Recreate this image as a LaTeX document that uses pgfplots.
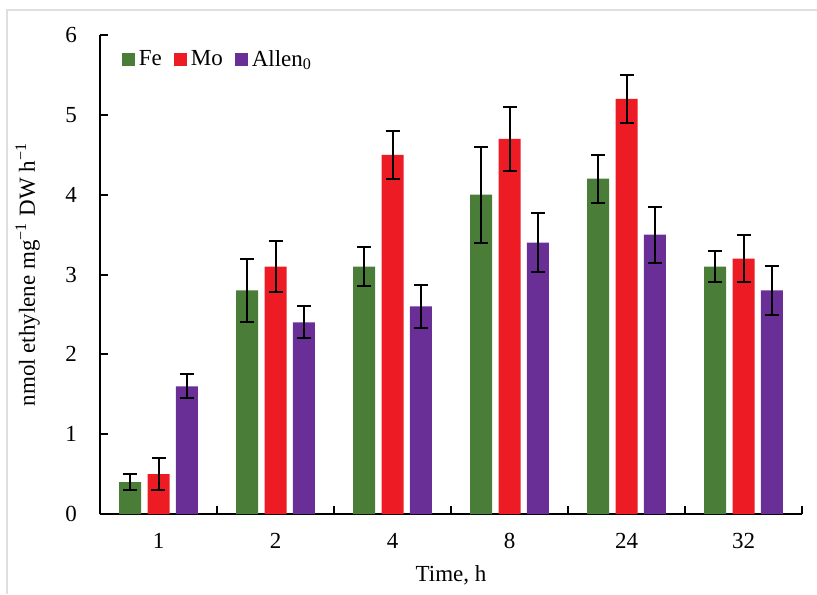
\documentclass[border=0pt]{standalone}
\usepackage{fontspec}
\setmainfont{Liberation Serif}
\usepackage{pgfplots}
\pgfplotsset{compat=1.18}
\usepackage{pgfplotstable}

\definecolor{feGreen}{RGB}{74,125,56}
\definecolor{moRed}{RGB}{237,28,36}
\definecolor{alPurple}{RGB}{106,47,150}

% time point index, means and error half-widths
\pgfplotstableread{
x fe feerr mo moerr al alerr
0 0.4 0.10 0.5 0.20 1.6 0.15
1 2.8 0.40 3.1 0.32 2.4 0.20
2 3.1 0.25 4.5 0.30 2.6 0.27
3 4.0 0.60 4.7 0.40 3.4 0.37
4 4.2 0.30 5.2 0.30 3.5 0.35
5 3.1 0.20 3.2 0.30 2.8 0.31
}\nitro

\begin{document}
\begin{tikzpicture}
\begin{axis}[
  scale only axis, width=351pt, height=239.5pt,
  ybar=3.2pt, bar width=11pt,
  xmin=-0.5, xmax=5.5, ymin=0, ymax=6,
  axis x line*=bottom, axis y line*=left,
  axis line style={line width=1pt,black},
  tick align=inside, major tick length=4pt,
  xtick={-0.5,0.5,...,5.5}, xticklabels={},
  extra x ticks={0,1,2,3,4,5},
  extra x tick labels={1,2,4,8,24,32},
  extra x tick style={major tick length=0pt},
  ytick={0,1,...,6},
  tick style={line width=1pt,black},
  /pgf/number format/assume math mode=true,
  tick label style={font=\fontsize{11.5}{13}\selectfont},
  yticklabel style={xshift=-8pt},
  xticklabel style={yshift=-6pt},
  xlabel={Time, h},
  ylabel={nmol ethylene mg\textsuperscript{−1} DW h\textsuperscript{−1}},
  label style={font=\fontsize{11.5}{13}\selectfont},
  xlabel style={at={(axis description cs:0.5,-0.127)}, anchor=center},
  ylabel style={at={(axis description cs:-0.103,0.5)}, anchor=center},
  legend columns=3,
  legend style={at={(axis description cs:0.022,0.948)}, anchor=west, draw=none, fill=none,
    font=\fontsize{11.5}{13}\selectfont,
    /tikz/every even column/.append style={column sep=4pt}},
  legend image code/.code={\fill[#1] (0pt,-3pt) rectangle (6.5pt,3.5pt);},
  error bars/error bar style={line width=1pt,black},
  error bars/error mark options={rotate=90,mark size=3.5pt,line width=1pt,black},
]
\addplot[fill=feGreen, draw=none, error bars/.cd, y dir=both, y explicit]
  table[x=x, y=fe, y error=feerr] {\nitro};
\addplot[fill=moRed, draw=none, error bars/.cd, y dir=both, y explicit]
  table[x=x, y=mo, y error=moerr] {\nitro};
\addplot[fill=alPurple, draw=none, error bars/.cd, y dir=both, y explicit]
  table[x=x, y=al, y error=alerr] {\nitro};
\legend{Fe,Mo,Allen\textsubscript{0}}
\end{axis}
\path[use as bounding box] (-50pt,-40pt) rectangle (358.5pt,257pt);
\draw[gray!25, line width=0.8pt] (-46.5pt,-40pt) -- (-46.5pt,252pt) -- (358.5pt,252pt);
\end{tikzpicture}
\end{document}
